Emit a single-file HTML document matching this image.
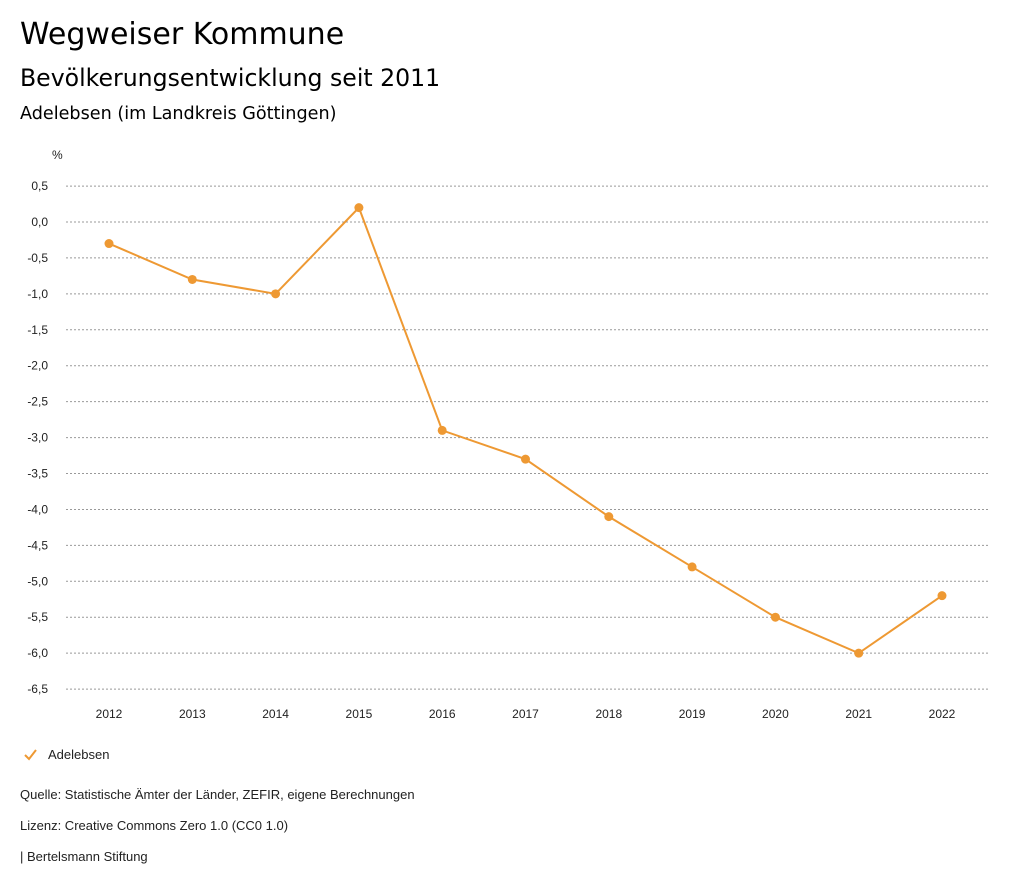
<!DOCTYPE html>
<html><head><meta charset="utf-8">
<style>
body{margin:0;width:1024px;height:888px;background:#fff;font-family:"Liberation Sans",sans-serif;color:#000;overflow:hidden}
.t1{position:absolute;left:20px;top:17px;font-size:30px;font-family:"DejaVu Sans",sans-serif}
.t2{position:absolute;left:20px;top:64px;font-size:23.6px;font-family:"DejaVu Sans",sans-serif}
.t3{position:absolute;left:20px;top:104px;font-size:17.6px;font-family:"DejaVu Sans",sans-serif;font-weight:500}
.foot{position:absolute;left:20px;font-size:13px;color:#222}
</style></head><body>
<div class="t1">Wegweiser Kommune</div>
<div class="t2">Bevölkerungsentwicklung seit 2011</div>
<div class="t3">Adelebsen (im Landkreis Göttingen)</div>
<svg id="chart" width="1024" height="888" style="position:absolute;left:0;top:0"></svg>
<div class="foot" style="top:787px">Quelle: Statistische Ämter der Länder, ZEFIR, eigene Berechnungen</div>
<div class="foot" style="top:818px">Lizenz: Creative Commons Zero 1.0 (CC0 1.0)</div>
<div class="foot" style="top:849px">| Bertelsmann Stiftung</div>
<script>
const years=["2012","2013","2014","2015","2016","2017","2018","2019","2020","2021","2022"];
const values=[-0.3,-0.8,-1.0,0.2,-2.9,-3.3,-4.1,-4.8,-5.5,-6.0,-5.2];
const yTicks=[0.5,0,-0.5,-1,-1.5,-2,-2.5,-3,-3.5,-4,-4.5,-5,-5.5,-6,-6.5];
const NS="http://www.w3.org/2000/svg";
const svg=document.getElementById('chart');
const y=v=>222-v*71.86;
const x=i=>109+i*83.3;
const color="#ee9933";
function mk(t,a){const e=document.createElementNS(NS,t);for(const k in a)e.setAttribute(k,a[k]);svg.appendChild(e);return e;}
let u=mk('text',{x:52,y:159,'font-size':12,fill:'#222'});u.textContent='%';


yTicks.forEach(v=>{
 const g=mk('line',{x1:66,x2:990,y1:y(v),y2:y(v),stroke:'#999','stroke-dasharray':'2,2','stroke-width':1});
 
 
 const t=mk('text',{x:48,y:y(v)+4,'font-size':12,fill:'#222','text-anchor':'end'});
 t.textContent=v.toFixed(1).replace('.',',');
 
 
});
years.forEach((yr,i)=>{
 const t=mk('text',{x:x(i),y:718,'font-size':12,fill:'#222','text-anchor':'middle'});
 t.textContent=yr;
 
 
});
const p=mk('polyline',{points:values.map((v,i)=>x(i)+','+y(v)).join(' '),fill:'none',stroke:color,'stroke-width':2});


values.forEach((v,i)=>{
 const c=mk('circle',{cx:x(i),cy:y(v),r:4.5,fill:color});
 
 
});
const lm=mk('polyline',{points:'25,755 29,759 36,750',fill:'none',stroke:color,'stroke-width':2});


const lt=mk('text',{x:48,y:759,'font-size':13,fill:'#222'});
lt.textContent='Adelebsen';


</script>
</body></html>
